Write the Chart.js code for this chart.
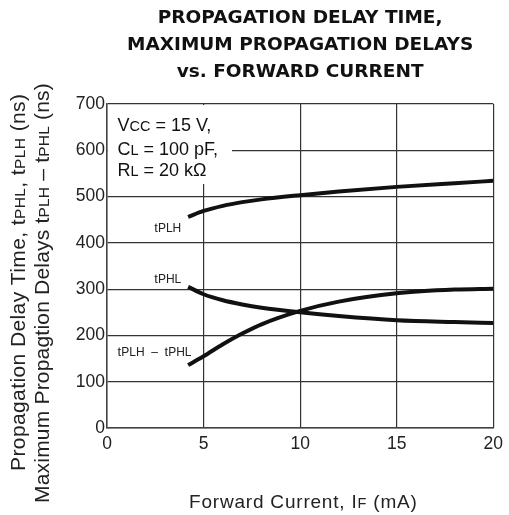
<!DOCTYPE html>
<html><head><meta charset="utf-8">
<script src="https://cdn.jsdelivr.net/npm/chart.js@4.4.0/dist/chart.umd.min.js"></script>
<style>html,body{margin:0;padding:0;background:#fff;}#wrap{width:509px;height:515px;}</style>
</head><body><div id="wrap"><canvas id="c" width="509" height="515"></canvas></div>
<script>
const forwardCurrent = [4.2, 5, 6, 7, 8, 10, 12, 15, 18, 20];
const tPLH =          [456, 469, 480, 488, 494, 503, 511, 521, 529, 534];
const tPHL =          [305, 289, 276, 267, 260, 250, 242, 233, 229, 227];
const tPLHminusTPHL = [136, 155, 181, 204, 224, 253, 273, 291, 299, 301];
const xTicks = [0, 5, 10, 15, 20];
const yTicks = [0, 100, 200, 300, 400, 500, 600, 700];
const titleLines = ['PROPAGATION DELAY TIME,', 'MAXIMUM PROPAGATION DELAYS', 'vs. FORWARD CURRENT'];
const xTitle = [['Forward Current, I',19],['F',14.5],[' (mA)',19]];
const yTitle1 = [['Propagation Delay Time, t',21],['PHL',15.5],[', t',21],['PLH',15.5],[' (ns)',21]];
const yTitle2 = [['Maximum Propagtion Delays t',21],['PLH',15.5],[' – t',21],['PHL',15.5],[' (ns)',21]];
const conditions = [[['V',18],['CC',14.5],[' = 15 V,',18]],[['C',18],['L',14.5],[' = 100 pF,',18]],[['R',18],['L',14.5],[' = 20 kΩ',18]]];
const curveLabels = [
  {x:2.45, y:434, parts:[['t',13],['PLH',12]]},
  {x:2.45, y:324, parts:[['t',13],['PHL',12]]},
  {x:0.55, y:166, parts:[['t',13],['PLH',12],['  –  ',12],['t',13],['PHL',12]]}
];
const FONT = 'Arial, "Liberation Sans", sans-serif';
function pts(ys){ return forwardCurrent.map((x,i)=>({x, y: ys[i]})); }
function drawParts(ctx, parts, x, y, ls){
  ctx.textBaseline = 'alphabetic';
  ctx.textAlign = 'left';
  if ('letterSpacing' in ctx) ctx.letterSpacing = (ls || 0) + 'px';
  let cx = x;
  for (const [t, s] of parts){
    ctx.font = s + 'px ' + FONT;
    ctx.fillText(t, cx, y);
    cx += ctx.measureText(t).width;
  }
  if ('letterSpacing' in ctx) ctx.letterSpacing = '0px';
}
const annot = {
  id: 'annot',
  beforeDatasetsDraw(chart){
    const ctx = chart.ctx, xs = chart.scales.x, ys = chart.scales.y;
    ctx.save();
    ctx.fillStyle = '#fff';
    const x0 = xs.left + 1, y0 = ys.top + 1;
    ctx.fillRect(x0, y0, 232 - x0, 184 - y0);
    ctx.fillStyle = '#111';
    const baseY = [131, 155, 176];
    conditions.forEach((p,i)=>drawParts(ctx, p, 117.5, baseY[i]));
    ctx.restore();
  },
  afterDatasetsDraw(chart){
    const ctx = chart.ctx, xs = chart.scales.x, ys = chart.scales.y;
    ctx.save();
    ctx.fillStyle = '#222';
    curveLabels.forEach(l=>drawParts(ctx, l.parts, xs.getPixelForValue(l.x), ys.getPixelForValue(l.y) + 5));
    ctx.fillStyle = '#222';
    drawParts(ctx, xTitle, 189, 508, 0.8);
    ctx.save();
    ctx.translate(25, 471); ctx.rotate(-Math.PI/2);
    drawParts(ctx, yTitle1, 0, 0, 0.4);
    ctx.restore();
    ctx.save();
    ctx.translate(48.5, 503); ctx.rotate(-Math.PI/2);
    drawParts(ctx, yTitle2, 0, 0, 0.2);
    ctx.restore();
    ctx.restore();
  }
};
const lineDs = (label, ys) => ({label, data: pts(ys), showLine: true, borderColor: '#111', borderWidth: 4, pointRadius: 0, cubicInterpolationMode: 'monotone', fill: false});
new Chart(document.getElementById('c'), {
  type: 'scatter',
  data: { datasets: [lineDs('tPLH', tPLH), lineDs('tPHL', tPHL), lineDs('tPLH – tPHL', tPLHminusTPHL)] },
  options: {
    responsive: false, animation: false,
    layout: { padding: { left: 0, right: 14, top: 0, bottom: 0 } },
    plugins: {
      legend: { display: false }, tooltip: { enabled: false },
      title: { display: true, text: titleLines, fullSize: false, color: '#111',
        font: { family: '"DejaVu Sans", Arial, sans-serif', size: 18.5, weight: 'bold', lineHeight: 1.46 }, padding: { top: 5, bottom: 18 } }
    },
    scales: {
      x: { type: 'linear', min: 0, max: 20,
        afterBuildTicks(s){ s.ticks = xTicks.map(v=>({value:v})); },
        afterFit(s){ s.height = 87; },
        grid: { color: '#333', lineWidth: 1.2, drawTicks: false },
        border: { color: '#444', width: 1.5 },
        ticks: { color: '#222', font: { family: FONT, size: 17.5 }, padding: 6, maxRotation: 0 }
      },
      y: { min: 0, max: 700,
        afterBuildTicks(s){ s.ticks = yTicks.map(v=>({value:v})); },
        afterFit(s){ s.width = 107; },
        grid: { color: '#333', lineWidth: 1.2, drawTicks: false },
        border: { color: '#444', width: 1.5 },
        ticks: { color: '#222', font: { family: FONT, size: 17.5 }, padding: 2 }
      }
    }
  },
  plugins: [annot]
});
</script></body></html>
